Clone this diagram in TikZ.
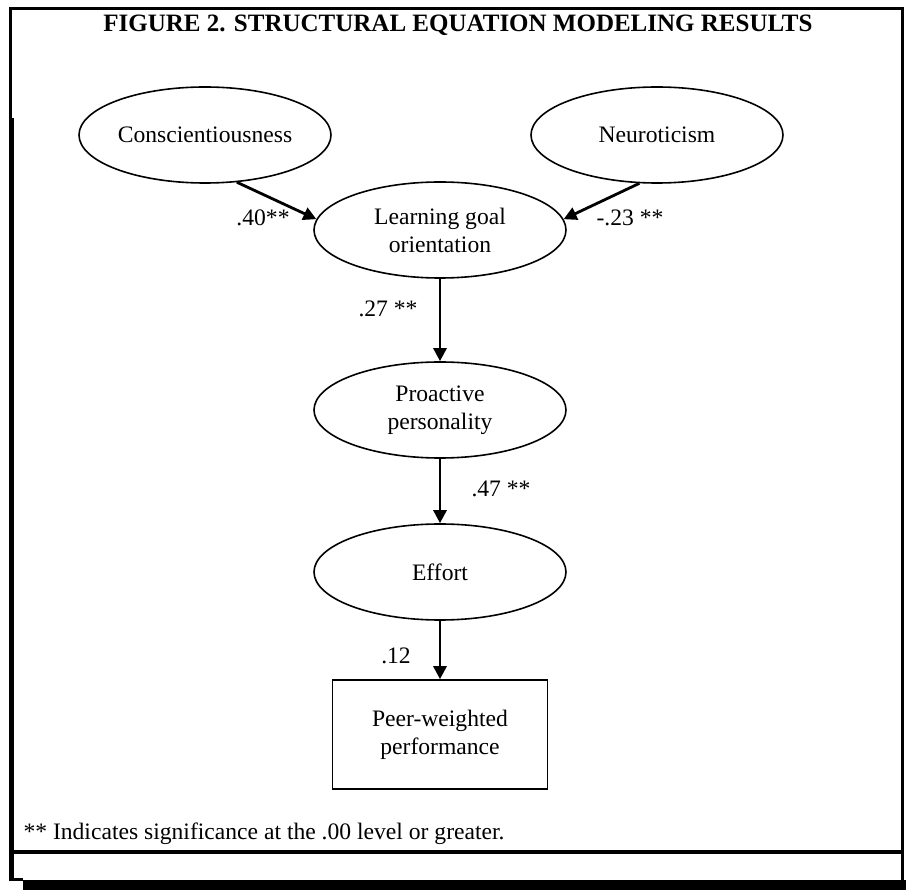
\documentclass[tikz,border=0pt]{standalone}
\usepackage{fontspec}
\setmainfont{Liberation Serif}
\usetikzlibrary{shapes.geometric,arrows.meta}

\begin{document}
\begin{tikzpicture}[x=1pt,y=-1pt,
    every node/.append style={font=\fontsize{23.6}{28}\selectfont},
    latent/.style={draw,ellipse,line width=1.6pt,minimum width=252pt,minimum height=96pt,inner sep=0pt,align=center},
    observed/.style={draw,rectangle,line width=1.6pt,minimum width=215pt,minimum height=109pt,inner sep=0pt,align=center},
    effect/.style={line width=2.8pt,-{Triangle[length=13pt,width=13pt]}},
    coef/.style={inner sep=0pt}]
      \useasboundingbox (0,0) rectangle (906,890);

      % frame
      \fill (9,7) rectangle (904,10);      % top
      \fill (9,7) rectangle (12,120);      % left, title part
      \fill (9,118) rectangle (14,881);    % left
      \fill (901,7) rectangle (904,881);   % right
      \fill (9,850) rectangle (904,854);   % above bottom strip
      \fill (23,880) rectangle (906,890);  % shadow
      \fill (9,878) rectangle (23,881);

      \node[font=\bfseries\fontsize{25}{30}\selectfont] (title) at (458,25) {FIGURE 2. STRUCTURAL EQUATION MODELING RESULTS};

      % constructs
      \node[latent] (consc) at (205,135) {Conscientiousness};
      \node[latent] (neuro) at (657,135) {Neuroticism};
      \node[latent] (lgo) at (440,230) {Learning goal\\orientation};
      \node[latent] (proact) at (440,410) {Proactive\\personality};
      \node[latent] (effort) at (440,572) {Effort};
      \node[observed] (perf) at (440,734.5) {Peer-weighted\\performance};

      % paths
      \draw[effect] (consc.-56) -- (lgo.175);
      \draw[effect] (neuro.-110) -- (lgo.5);
      \draw[effect] (lgo.south) -- (proact.north);
      \draw[effect] (proact.south) -- (effort.north);
      \draw[effect] (effort.south) -- (perf.north);

      % coefficients
      \node[coef] (b1) at (263,218) {.40**};
      \node[coef] (b2) at (630,218) {-.23 **};
      \node[coef] (b3) at (388,309) {.27 **};
      \node[coef] (b4) at (501,489) {.47 **};
      \node[coef] (b5) at (396,656) {.12};

      \node[anchor=west] (note) at (20,834) {** Indicates significance at the .00 level or greater.};
\end{tikzpicture}
\end{document}
